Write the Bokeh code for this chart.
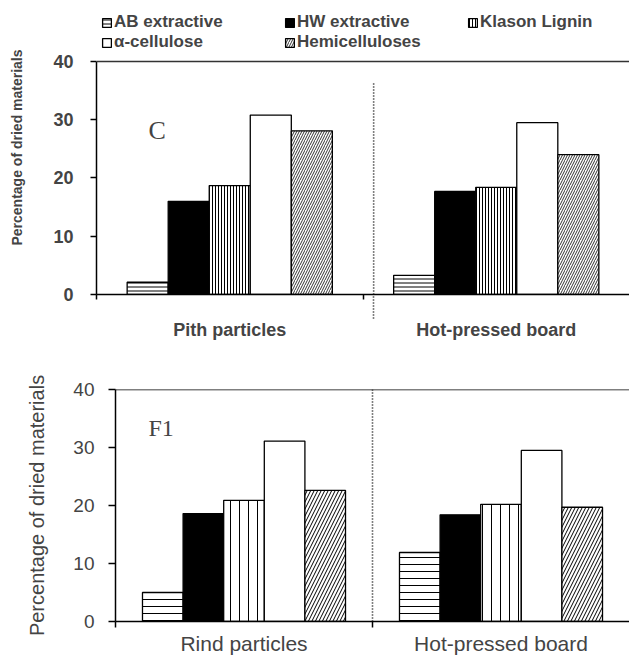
from bokeh.plotting import figure
from bokeh.models import (FactorRange, Range1d, FixedTicker, Span, Legend, LegendItem,
                          Label, LinearAxis, CategoricalAxis, ColumnDataSource)
from bokeh.transform import dodge
from bokeh.embed import file_html
from bokeh.resources import INLINE

# ---------------- data ----------------
series = ["AB extractive", "HW extractive", "Klason Lignin", "α-cellulose", "Hemicelluloses"]

pith_categories = ["Pith particles", "Hot-pressed board"]
pith_ab = [2.1, 3.3]
pith_hw = [16.0, 17.7]
pith_kl = [18.7, 18.4]
pith_ac = [30.8, 29.5]
pith_hc = [28.1, 24.0]

rind_categories = ["Rind particles", "Hot-pressed board"]
rind_ab = [5.0, 11.9]
rind_hw = [18.6, 18.4]
rind_kl = [20.9, 20.2]
rind_ac = [31.1, 29.5]
rind_hc = [22.6, 19.7]

y_ticks = [0, 10, 20, 30, 40]
y_label = "Percentage of dried materials"
top_tag = "C"
bottom_tag = "F1"

FONT = "Liberation Sans"
SERIF = "Liberation Serif"

# style per series: (fill, hatch pattern)
patterns = [("white", "-"), ("black", " "), ("white", "|"), ("white", " "), ("white", "/")]


def add_bars(p, cats, values, bar_w, hatch_scales, hatch_weights):
    renderers = []
    for i, vals in enumerate(values):
        fill, hatch = patterns[i]
        src = ColumnDataSource(dict(cat=cats, val=vals))
        r = p.vbar(x=dodge("cat", (i - 2) * bar_w, range=p.x_range), top="val", bottom=0,
                   width=bar_w, source=src, fill_color=fill, line_color="black",
                   line_width=1.3, hatch_pattern=hatch, hatch_color="black",
                   hatch_scale=hatch_scales[i], hatch_weight=hatch_weights[i])
        renderers.append(r)
    return renderers


# ---------------- top chart ----------------
# frame reaches the top of the canvas so that the legend can sit in it
p1 = figure(x_range=FactorRange(factors=pith_categories), y_range=Range1d(0, 50.47),
            width=629, height=350, min_border_left=96, min_border_right=0,
            min_border_top=0, min_border_bottom=56, x_axis_location=None,
            output_backend="svg", toolbar_location=None)
p1.outline_line_color = None
p1.grid.grid_line_color = None

r1 = add_bars(p1, pith_categories, [pith_ab, pith_hw, pith_kl, pith_ac, pith_hc], 0.154,
              [4, 1, 3, 1, 5], [1.0, 1.0, 1.0, 1.0, 0.8])

p1.add_layout(Span(location=40, dimension="width", line_color="#333333", line_width=1.5))
p1.segment(x0=[1.04], y0=[0], x1=[1.04], y1=[36.4],
           line_color="black", line_dash="1 2", line_width=1.6)

ya = p1.yaxis[0]
ya.ticker = FixedTicker(ticks=y_ticks)
ya.bounds = (0, 40)
ya.minor_tick_line_color = None
ya.major_tick_out = 6
ya.major_tick_in = 0
ya.axis_line_width = 1.5
ya.major_tick_line_width = 1.5
ya.major_label_text_font = FONT
ya.major_label_text_font_style = "bold"
ya.major_label_text_font_size = "18px"
ya.major_label_standoff = 17
ya.axis_label = y_label
ya.axis_label_text_font = FONT
ya.axis_label_text_font_style = "bold"
ya.axis_label_text_font_size = "14px"
ya.axis_label_standoff = 25

ax1n = LinearAxis(ticker=FixedTicker(ticks=[1.04], minor_ticks=[0, 1]),
                  major_tick_out=24, major_tick_in=0, major_tick_line_dash="1 2",
                  major_tick_line_width=1.6, minor_tick_out=5, minor_tick_in=0,
                  minor_tick_line_width=1.5, axis_line_width=1.5,
                  major_label_overrides={1.04: ""}, major_label_standoff=0)
ax1c = CategoricalAxis(axis_line_color=None, major_tick_line_color=None,
                       major_tick_out=0, major_tick_in=0, major_label_standoff=1,
                       major_label_text_font=FONT, major_label_text_font_style="bold",
                       major_label_text_font_size="18px")
p1.add_layout(ax1n, "below")
p1.add_layout(ax1c, "below")

p1.add_layout(Label(x=0.195, y=28.2, text=top_tag,
                    text_font=SERIF, text_font_size="26px", text_align="left",
                    text_baseline="alphabetic"))

legend = Legend(items=[LegendItem(label=s, renderers=[r]) for s, r in zip(series, r1)],
                location=(5, 242), orientation="horizontal", ncols=3,
                glyph_width=11, glyph_height=11, label_height=11, label_width=170,
                label_standoff=2, spacing=0, padding=0, margin=0,
                border_line_color=None, background_fill_alpha=0,
                label_text_font=FONT, label_text_font_style="bold",
                label_text_font_size="17px")
p1.add_layout(legend)

# ---------------- bottom chart ----------------
p2 = figure(x_range=FactorRange(factors=rind_categories), y_range=Range1d(0, 40),
            width=629, height=307, min_border_left=115, min_border_right=0,
            min_border_top=39, min_border_bottom=34, x_axis_location=None,
            output_backend="svg", toolbar_location=None)
p2.outline_line_color = None
p2.grid.grid_line_color = None

add_bars(p2, rind_categories, [rind_ab, rind_hw, rind_kl, rind_ac, rind_hc], 0.158,
         [7, 1, 9, 1, 7], [1.0, 1.0, 1.0, 1.0, 1.0])

p2.add_layout(Span(location=40, dimension="width", line_color="black", line_width=1.5))
p2.segment(x0=[1.0], y0=[0], x1=[1.0], y1=[40],
           line_color="black", line_dash="1 2", line_width=1.6)

yb = p2.yaxis[0]
yb.ticker = FixedTicker(ticks=y_ticks)
yb.minor_tick_line_color = None
yb.major_tick_out = 7
yb.major_tick_in = 0
yb.axis_line_width = 1.5
yb.major_tick_line_width = 1.5
yb.major_label_text_font = FONT
yb.major_label_text_font_size = "19px"
yb.major_label_standoff = 14
yb.axis_label = y_label
yb.axis_label_text_font = FONT
yb.axis_label_text_font_style = "normal"
yb.axis_label_text_font_size = "20px"
yb.axis_label_standoff = 22

ax2n = LinearAxis(ticker=FixedTicker(ticks=[1.0], minor_ticks=[0]),
                  major_tick_out=6, major_tick_in=0, major_tick_line_width=1.5,
                  minor_tick_out=6, minor_tick_in=0, minor_tick_line_width=1.5,
                  axis_line_width=1.5, major_label_overrides={1.0: ""},
                  major_label_standoff=0)
ax2c = CategoricalAxis(axis_line_color=None, major_tick_line_color=None,
                       major_tick_out=0, major_tick_in=0, major_label_standoff=4,
                       major_label_text_font=FONT, major_label_text_font_size="21px")
p2.add_layout(ax2n, "below")
p2.add_layout(ax2c, "below")

p2.add_layout(Label(x=0.128, y=33.4, text=bottom_tag,
                    text_font=SERIF, text_font_size="24px", text_align="left",
                    text_baseline="alphabetic"))

# two separate roots, so that the frames are not aligned with each other
open("out.html", "w").write(file_html([p1, p2], INLINE))
